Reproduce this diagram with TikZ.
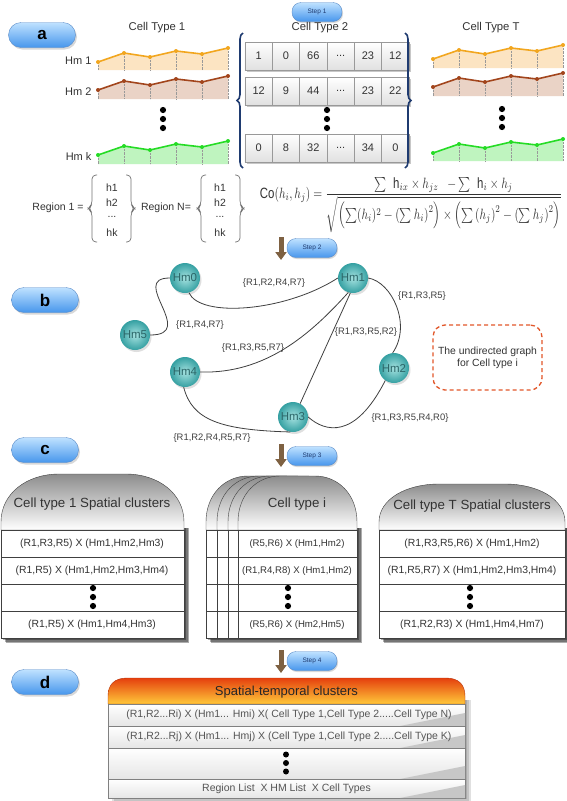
\documentclass[tikz,border=0pt]{standalone}
\usepackage{fontspec}
\setmainfont{Liberation Sans}
\usetikzlibrary{shadows,decorations.pathreplacing,arrows.meta}
\definecolor{pilltop}{HTML}{BFE2FF}
\definecolor{pillbot}{HTML}{4796EC}
\definecolor{pillline}{HTML}{5B8CC8}
\definecolor{navy}{HTML}{1F3B70}
\definecolor{hmA}{HTML}{F2A61E}
\definecolor{hmAf}{HTML}{FCE4C2}
\definecolor{hmB}{HTML}{A2451C}
\definecolor{hmBf}{HTML}{EAD3C6}
\definecolor{hmC}{HTML}{25DC25}
\definecolor{hmCf}{HTML}{BFF4BF}
\definecolor{tealin}{HTML}{A6E2E0}
\definecolor{tealout}{HTML}{35A0A2}
\definecolor{tealtxt}{HTML}{2C6668}
\definecolor{stepbrown}{HTML}{7E6142}
\definecolor{dashred}{HTML}{E2572A}
\definecolor{hdtop}{HTML}{E5400E}
\definecolor{hdbot}{HTML}{FFC93A}
\definecolor{txt}{HTML}{333333}
\definecolor{dtxt}{HTML}{555555}

\newcommand\fs[1]{\fontsize{#1}{#1}\selectfont}
\newcommand\tdots{...}

% chart: #1 x0, #2 first y, #3 base y, #4 line colour, #5 fill colour
\newcommand\hmchart[5]{%
  \fill[#5] (#1,#3) -- (#1,#2) -- (#1+26,#2-9) -- (#1+52,#2-5) -- (#1+78,#2-11) -- (#1+104,#2-8) -- (#1+130,#2-14) -- (#1+130,#3) -- cycle;
  \foreach \dx/\dy in {0/0,26/9,52/5,78/11,104/8,130/14}
    \draw[black!40, densely dotted] (#1+\dx,#2-\dy) -- (#1+\dx,#3);
  \draw[#4, line width=1.6, line join=round] (#1,#2) -- (#1+26,#2-9) -- (#1+52,#2-5) -- (#1+78,#2-11) -- (#1+104,#2-8) -- (#1+130,#2-14);
  \foreach \dx/\dy in {0/0,26/9,52/5,78/11,104/8,130/14}
    \fill[#4] (#1+\dx,#2-\dy) circle (2);
}
\newcommand\vdotsat[2]{\foreach \k in {-9,0,9} \fill[black] (#1,#2+\k) circle (3.1);}
% card header: #1 x, #2 w, #3 top, #4 corner radius
\newcommand\cardhead[4]{%
  \path[draw=black!75, top color=black!45, bottom color=white]
    (#1,530) -- (#1,522) .. controls (#1,#3+0.40*522-0.40*#3) and (#1+0.45*#4,#3) .. (#1+#4,#3)
    -- (#1+#2-#4,#3) .. controls (#1+#2-0.45*#4,#3) and (#1+#2,#3+0.40*522-0.40*#3) .. (#1+#2,522)
    -- (#1+#2,530) -- cycle;}
\newcommand\cardrows[2]{\foreach \ya in {530,557,584,611} \draw[black!75, fill=white] (#1,\ya) rectangle (#1+#2,\ya+27);}
\newcommand\cardshadow[3]{\foreach \o in {2,3.5,5} \fill[black,opacity=0.32] (#1+\o,#3) rectangle (#1+#2+\o,638+\o);}

\begin{document}
\begin{tikzpicture}[x=1pt,y=-1pt,
  labpill/.style={draw=pillline, top color=pilltop, bottom color=pillbot, rounded corners=12.5pt,
     minimum width=67pt, minimum height=25pt, inner sep=0pt, font=\fs{17}\bfseries,
     drop shadow={shadow xshift=1.5pt, shadow yshift=-2pt, opacity=0.3}},
  steppill/.style={draw=pillline, top color=pilltop, bottom color=pillbot, rounded corners=9pt,
     minimum width=50pt, minimum height=19pt, inner sep=0pt, font=\fs{6.5}, text=navy,
     drop shadow={shadow xshift=1pt, shadow yshift=-1.5pt, opacity=0.3}},
  steparrow/.style={draw=stepbrown, line width=5pt, -{Triangle[width=11pt,length=8pt]}},
  ctitle/.style={font=\fs{11.3}, text=txt},
  hmlab/.style={font=\fs{11}, text=txt, anchor=east},
  tcell/.style={draw=black!40, top color=white, bottom color=black!12, minimum width=27.33pt,
     minimum height=28pt, inner sep=0pt, font=\fs{11}, text=txt},
  rt/.style={font=\fs{10.5}, text=txt},
  hm/.style={circle, minimum size=30pt, inner sep=0pt, inner color=tealin, outer color=tealout,
     font=\fs{11.5}, text=tealtxt, drop shadow={shadow xshift=1.5pt, shadow yshift=-2pt, opacity=0.25}},
  edge/.style={draw=black!75, line width=0.8pt},
  elab/.style={font=\fs{9.4}, text=black!75},
  cardtitle/.style={font=\fs{13.3}, text=txt},
  rowtxt/.style={font=\fs{10.4}, text=txt},
  drow/.style={font=\fs{10.5}, text=dtxt}]
\useasboundingbox[fill=white] (0,0) rectangle (567,801);

% ---------- section labels and steps
\node[labpill] (pa) at (42,35) {a};
\node[labpill] (pb) at (45,300) {b};
\node[labpill] (pc) at (45,450) {c};
\node[labpill] (pd) at (45,682) {d};
\node[steppill] (s1) at (317,12) {Step 1};
\node[steppill] (s2) at (312,248) {Step 2};
\node[steppill] (s3) at (312,456) {Step 3};
\node[steppill] (s4) at (312,661) {Step 4};
\coordinate (a2s) at (281,237); \coordinate (a2e) at (281,260);
\coordinate (a3s) at (281,444); \coordinate (a3e) at (281,467);
\coordinate (a4s) at (281,650); \coordinate (a4e) at (281,673);
\draw[steparrow] (a2s) -- (a2e);
\draw[steparrow] (a3s) -- (a3e);
\draw[steparrow] (a4s) -- (a4e);

% ---------- (a) cell type 1
\node[ctitle] (ct1) at (157,28) {Cell Type 1};
\hmchart{98}{62}{70}{hmA}{hmAf}
\hmchart{98}{90}{99}{hmB}{hmBf}
\hmchart{98}{155}{164}{hmC}{hmCf}
\node[hmlab] (l1) at (95,61) {Hm 1};
\node[hmlab] (l2) at (95,92) {Hm 2};
\node[hmlab] (lk) at (95,157) {Hm k};
\vdotsat{163}{119}

% cell type T
\node[ctitle] (ctT) at (491,28) {Cell Type T};
\hmchart{433}{59}{68}{hmA}{hmAf}
\hmchart{433}{87}{96}{hmB}{hmBf}
\hmchart{433}{153}{161}{hmC}{hmCf}
\vdotsat{502}{118}

% cell type 2 table
\node[ctitle] (ct2) at (320,28) {Cell Type 2};
\fill[black,opacity=.22] (247,44) rectangle (411,72);
\fill[black,opacity=.22] (247,79) rectangle (411,107);
\fill[black,opacity=.22] (247,136) rectangle (411,164);
\foreach \v [count=\i] in {1,0,66,\tdots,23,12} \node[tcell] (ra\i) at (231.33+27.33*\i,56) {\v};
\foreach \v [count=\i] in {12,9,44,\tdots,23,22} \node[tcell] (rb\i) at (231.33+27.33*\i,91) {\v};
\foreach \v [count=\i] in {0,8,32,\tdots,34,0} \node[tcell] (rc\i) at (231.33+27.33*\i,148) {\v};
\vdotsat{327}{119}
\draw[navy, line width=1.6pt, decorate, decoration={brace, amplitude=6pt}] (243,168) -- (243,33);
\draw[navy, line width=1.6pt, decorate, decoration={brace, amplitude=6pt}] (405,33) -- (405,168);

% regions
\node[rt] (reg1) at (58,208) {Region 1 =};
\node[rt] (regN) at (166,208) {Region N=};
\foreach \x/\nm in {112/a,220/b}{
  \node[rt] (h1\nm) at (\x,188) {h1};
  \node[rt] (h2\nm) at (\x,203) {h2};
  \node[rt] (hd\nm) at (\x,217) {...};
  \node[rt] (hk\nm) at (\x,233) {hk};}
\begin{scope}[draw=black!55, line width=0.7pt, rounded corners=4pt]
\draw (97,175) -- (92,175) -- (92,205) -- (88,208.5) -- (92,212) -- (92,242) -- (97,242);
\draw (126,175) -- (131,175) -- (131,205) -- (135,208.5) -- (131,212) -- (131,242) -- (126,242);
\draw (206,175) -- (201,175) -- (201,205) -- (197,208.5) -- (201,212) -- (201,242) -- (206,242);
\draw (235,175) -- (240,175) -- (240,205) -- (244,208.5) -- (240,212) -- (240,242) -- (235,242);
\end{scope}

% formula
\node[inner sep=0pt, text=txt] (co) at (411,205) {\resizebox*{302pt}{56pt}{$\displaystyle\mathrm{Co}(h_i,h_j)=\frac{{\textstyle\sum}\;\;\mathrm{h}_{ix}\times h_{jz}\;\;-{\textstyle\sum}\;\;\mathrm{h}_i\times h_j}{\sqrt{\left(\sum(h_i)^2-\left(\sum h_i\right)^2\right)\times\left(\sum\left(h_j\right)^2-\left(\sum h_j\right)^2\right)}}$}};

% ---------- (b) graph
\node[hm] (hm0) at (185,278) {Hm0};
\node[hm] (hm1) at (353,278) {Hm1};
\node[hm] (hm5) at (135,335) {Hm5};
\node[hm] (hm4) at (185,372) {Hm4};
\node[hm] (hm3) at (293,417) {Hm3};
\node[hm] (hm2) at (394,368) {Hm2};
\draw[edge] (hm0.-75) .. controls (200,318) and (285,312) .. (hm1.west);
\draw[edge] (hm0.west) .. controls (128,278) and (198,335) .. (hm5.east);
\draw[edge] (hm4.east) .. controls (265,374) and (310,335) .. (hm1.-108);
\draw[edge] (hm3.62) -- (hm1.-100);
\draw[edge] (hm4.-95) .. controls (192,420) and (220,430) .. (hm3.-100);
\draw[edge] (hm3.east) .. controls (325,432) and (355,440) .. (hm2.-125);
\draw[edge] (hm1.east) .. controls (392,282) and (412,325) .. (hm2.95);
\node[elab] (e01) at (274,283) {\{R1,R2,R4,R7\}};
\node[elab] (e05) at (200,325) {\{R1,R4,R7\}};
\node[elab] (e41) at (253,348) {\{R1,R3,R5,R7\}};
\node[elab] (e31) at (366,332) {\{R1,R3,R5,R2\}};
\node[elab] (e43) at (212,438) {\{R1,R2,R4,R5,R7\}};
\node[elab] (e32) at (410,418) {\{R1,R3,R5,R4,R0\}};
\node[elab] (e12) at (422,296) {\{R1,R3,R5\}};
\node[draw=dashred, line width=1.3pt, dash pattern=on 4pt off 3pt, rounded corners=12pt,
  minimum width=109pt, minimum height=65pt, align=center, font=\fontsize{10.4}{12}\selectfont, text=txt] (ug) at (487.5,357.5) {The undirected graph\\for Cell type i};

% ---------- (c) cards
\cardshadow{1}{183}{528}
\cardhead{1}{183}{474}{58}
\cardrows{1}{183}
\node[cardtitle] (c1t) at (92,504) {Cell type 1 Spatial clusters};
\node[rowtxt] (c1a) at (92,544) {(R1,R3,R5) X (Hm1,Hm2,Hm3)};
\node[rowtxt] (c1b) at (92,571) {(R1,R5) X (Hm1,Hm2,Hm3,Hm4)};
\vdotsat{93}{597}
\node[rowtxt] (c1c) at (92,625) {(R1,R5) X (Hm1,Hm4,Hm3)};

\cardshadow{206}{151}{528}
\foreach \cx in {206,217,228,238}{
  \cardhead{\cx}{119}{476}{42}
  \cardrows{\cx}{119}}
\node[cardtitle] (cit) at (297,504) {Cell type i};
\node[rowtxt, font=\fs{9.6}] (cia) at (297,544) {(R5,R6) X (Hm1,Hm2)};
\node[rowtxt, font=\fs{9.6}] (cib) at (297,571) {(R1,R4,R8) X (Hm1,Hm2)};
\vdotsat{288}{597}
\node[rowtxt, font=\fs{9.6}] (cic) at (297,625) {(R5,R6) X (Hm2,Hm5)};

\cardshadow{379}{186}{528}
\cardhead{379}{186}{484}{60}
\cardrows{379}{186}
\node[cardtitle] (cTt) at (472,506) {Cell type T Spatial clusters};
\node[rowtxt] (cTa) at (472,544) {(R1,R3,R5,R6) X (Hm1,Hm2)};
\node[rowtxt] (cTb) at (472,571) {(R1,R5,R7) X (Hm1,Hm2,Hm3,Hm4)};
\vdotsat{470}{597}
\node[rowtxt] (cTc) at (472,625) {(R1,R2,R3) X (Hm1,Hm4,Hm7)};

% ---------- (d)
\foreach \o in {2,4,6} \fill[black,opacity=0.12] (108+\o,700) rectangle (465+\o,797+\o);
\path[draw=hdtop!80!black, top color=hdtop, bottom color=hdbot]
  (108,704) -- (108,696) .. controls (108,685) and (114,678) .. (127,678) -- (446,678)
  .. controls (459,678) and (465,685) .. (465,696) -- (465,704) -- cycle;
\node[font=\fs{13}, text=black!85] (dt) at (286.5,692) {Spatial-temporal clusters};
\foreach \ya/\yb in {704/726,726/748,748/779,779/798}{
  \path[draw=black!50, top color=white, bottom color=black!10] (108,\ya) rectangle (465,\yb);
  \fill[black!22] (400,\yb) -- (465,\yb) -- (465,\yb-13) -- cycle;}
\node[drow] (d1) at (289,715) {(R1,R2...Ri) X (Hm1... Hmi) X( Cell Type 1,Cell Type 2.....Cell Type N)};
\node[drow] (d2) at (289,737) {(R1,R2...Rj) X (Hm1... Hmj) X (Cell Type 1,Cell Type 2.....Cell Type K)};
\foreach \k in {-8.5,0,8.5} \fill[black] (286,763+\k) circle (3);
\node[drow] (d3) at (286.5,789) {Region List\ \ X HM List\ \ X Cell Types};
\end{tikzpicture}
\end{document}
